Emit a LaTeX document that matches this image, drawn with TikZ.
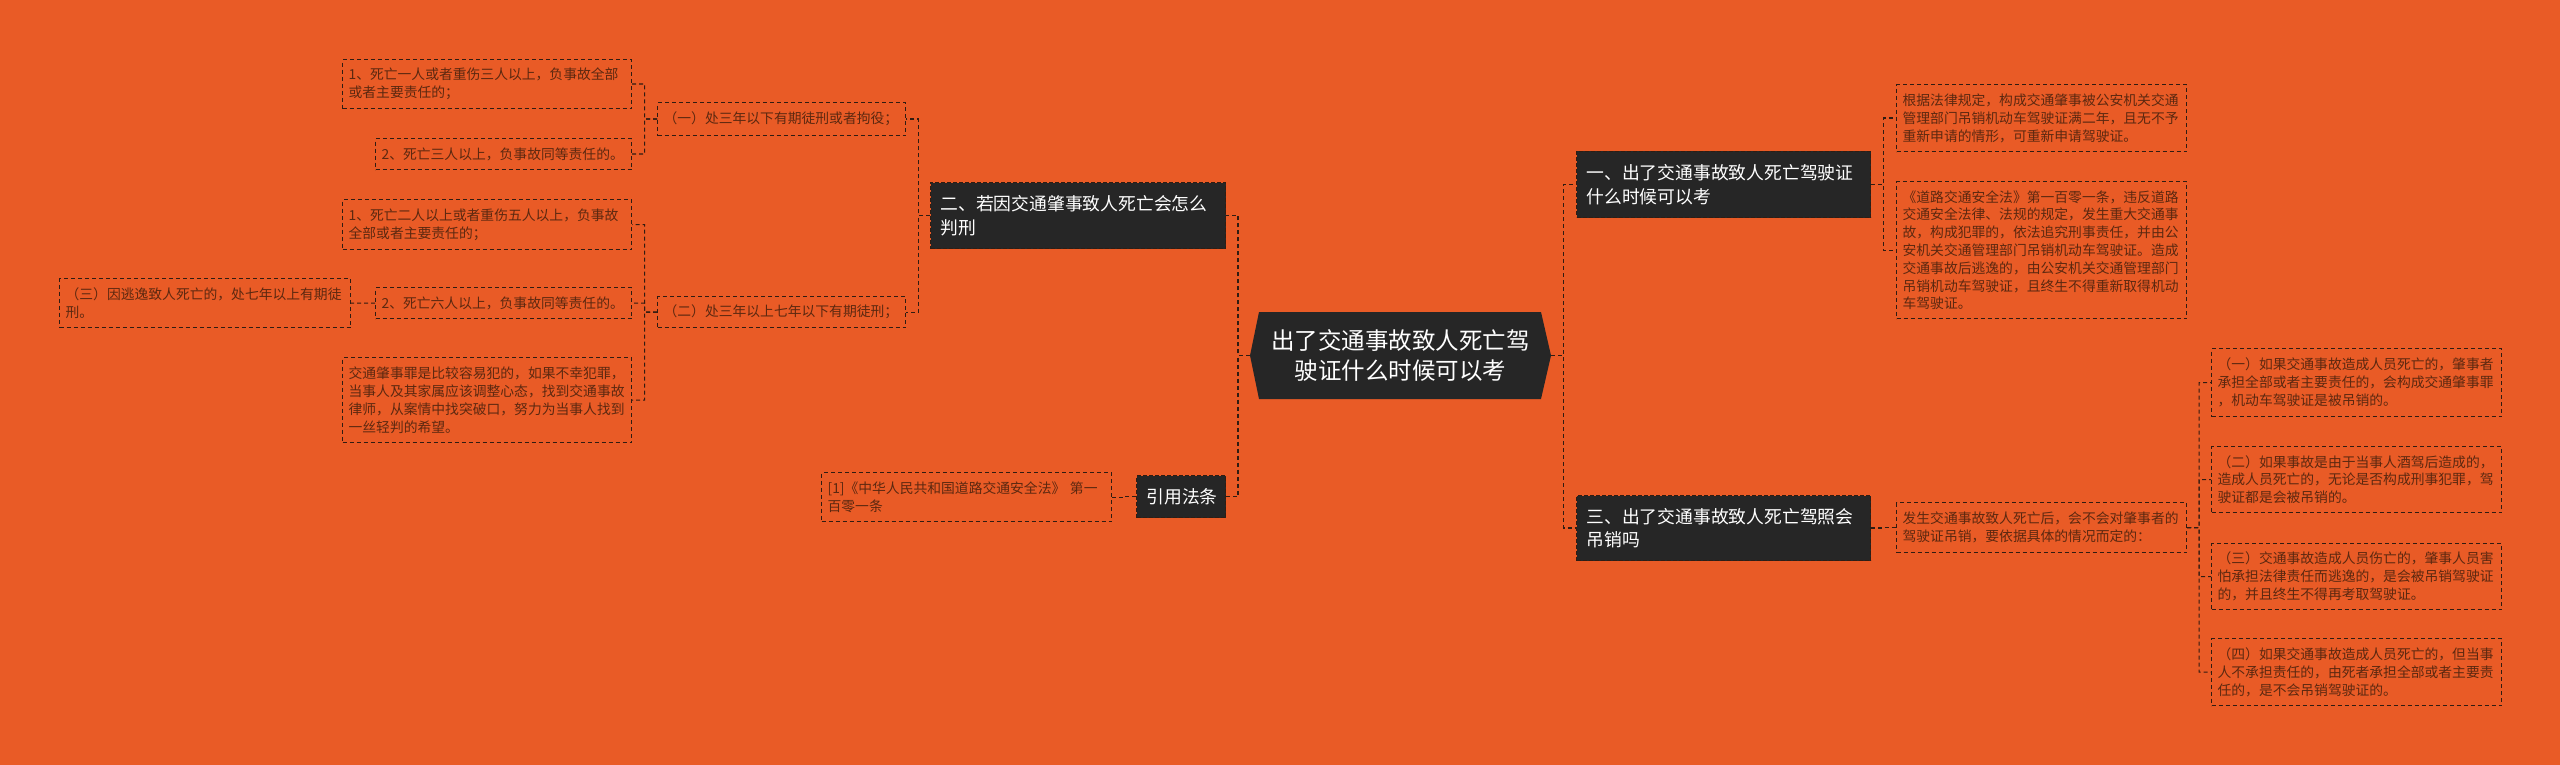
\documentclass[tikz,border=0pt]{standalone}
\usepackage{fontspec}
\newfontfamily\cjkf{Noto Sans CJK SC}
\usetikzlibrary{calc}
\definecolor{bgC}{RGB}{233,91,38}
\definecolor{darkC}{RGB}{38,38,38}
\definecolor{lineC}{RGB}{48,28,18}
\definecolor{txtC}{RGB}{92,40,16}
\newcommand{\connRight}[2]{\draw[conn] (#1.east) -- ($(#1.east)!.5!(#1.east -| #2.west)$) |- (#2.west);}
\newcommand{\connLeft}[2]{\draw[conn] (#1.west) -- ($(#1.west)!.5!(#1.west -| #2.east)$) |- (#2.east);}
\begin{document}
\begin{tikzpicture}[x=1pt,y=-1pt,
  conn/.style={draw=lineC, line width=1.2pt, dash pattern=on 4pt off 3pt},
  lbox/.style={draw=lineC, line width=1.2pt, dash pattern=on 4pt off 3pt, text=txtC,
    font=\cjkf\fontsize{13.8}{17.8}\selectfont, align=left, inner xsep=6pt, inner ysep=0pt, anchor=north west},
  dbox/.style={fill=darkC, draw=lineC, line width=1pt, dash pattern=on 4pt off 2pt, text=white,
    font=\cjkf\fontsize{17.8}{23.5}\selectfont, align=left, inner xsep=10pt, inner ysep=0pt, anchor=north west},
  cbox/.style={text=white, font=\cjkf\fontsize{23.5}{30}\selectfont, align=center, inner sep=0pt}
]
\fill[bgC] (0,0) rectangle (2560,765);
\useasboundingbox (0,0) rectangle (2560,765);

% central node
\fill[darkC] (1259,312) -- (1541,312) -- (1551,355.5) -- (1541,399) -- (1259,399) -- (1250,355.5) -- cycle;
\node[cbox, minimum width=301pt, minimum height=87pt] (c) at (1400.5,355.5) {出了交通事故致人死亡驾\\驶证什么时候可以考};

% level 1
\node[dbox, minimum width=295pt, minimum height=66pt, text width=275pt] (n2) at (930,182) {二、若因交通肇事致人死亡会怎么\\判刑};
\node[dbox, minimum width=89pt, minimum height=42pt, text width=69pt] (ncite) at (1136,475) {引用法条};
\node[dbox, minimum width=294pt, minimum height=66pt, text width=274pt] (n1) at (1576,151) {一、出了交通事故致人死亡驾驶证\\什么时候可以考};
\node[dbox, minimum width=294pt, minimum height=65pt, text width=274pt] (n3) at (1576,495) {三、出了交通事故致人死亡驾照会\\吊销吗};

% left side
\node[lbox, minimum width=248pt, minimum height=33pt, text width=236pt] (la) at (657,102) {（一）处三年以下有期徒刑或者拘役；};
\node[lbox, minimum width=248pt, minimum height=31pt, text width=236pt] (lb) at (657,296) {（二）处三年以上七年以下有期徒刑；};
\node[lbox, minimum width=289pt, minimum height=49pt, text width=277pt] (l11) at (342,59) {1、死亡一人或者重伤三人以上，负事故全部\\或者主要责任的；};
\node[lbox, minimum width=256pt, minimum height=31pt, text width=244pt] (l12) at (375,138) {2、死亡三人以上，负事故同等责任的。};
\node[lbox, minimum width=289pt, minimum height=50pt, text width=277pt] (l21) at (342,199) {1、死亡二人以上或者重伤五人以上，负事故\\全部或者主要责任的；};
\node[lbox, minimum width=256pt, minimum height=31pt, text width=244pt] (l22) at (375,287) {2、死亡六人以上，负事故同等责任的。};
\node[lbox, minimum width=289pt, minimum height=85pt, text width=277pt] (l23) at (342,357) {交通肇事罪是比较容易犯的，如果不幸犯罪，\\当事人及其家属应该调整心态，找到交通事故\\律师，从案情中找突破口，努力为当事人找到\\一丝轻判的希望。};
\node[lbox, minimum width=291pt, minimum height=49pt, text width=279pt] (l3) at (59,278) {（三）因逃逸致人死亡的，处七年以上有期徒\\刑。};
\node[lbox, minimum width=290pt, minimum height=49pt, text width=278pt] (lref) at (821,472) {[1]《中华人民共和国道路交通安全法》~第一\\百零一条};

% right side
\node[lbox, minimum width=290pt, minimum height=67pt, text width=278pt] (ra) at (1896,84) {根据法律规定，构成交通肇事被公安机关交通\\管理部门吊销机动车驾驶证满二年，且无不予\\重新申请的情形，可重新申请驾驶证。};
\node[lbox, minimum width=290pt, minimum height=137pt, text width=278pt] (rb) at (1896,181) {《道路交通安全法》第一百零一条，违反道路\\交通安全法律、法规的规定，发生重大交通事\\故，构成犯罪的，依法追究刑事责任，并由公\\安机关交通管理部门吊销机动车驾驶证。造成\\交通事故后逃逸的，由公安机关交通管理部门\\吊销机动车驾驶证，且终生不得重新取得机动\\车驾驶证。};
\node[lbox, minimum width=290pt, minimum height=50pt, text width=278pt] (rc) at (1896,502) {发生交通事故致人死亡后，会不会对肇事者的\\驾驶证吊销，要依据具体的情况而定的：};
\node[lbox, minimum width=290pt, minimum height=68pt, text width=278pt] (rd) at (2211,348) {（一）如果交通事故造成人员死亡的，肇事者\\承担全部或者主要责任的，会构成交通肇事罪\\，机动车驾驶证是被吊销的。};
\node[lbox, minimum width=290pt, minimum height=66pt, text width=278pt] (re) at (2211,446) {（二）如果事故是由于当事人酒驾后造成的，\\造成人员死亡的，无论是否构成刑事犯罪，驾\\驶证都是会被吊销的。};
\node[lbox, minimum width=290pt, minimum height=66pt, text width=278pt] (rf) at (2211,543) {（三）交通事故造成人员伤亡的，肇事人员害\\怕承担法律责任而逃逸的，是会被吊销驾驶证\\的，并且终生不得再考取驾驶证。};
\node[lbox, minimum width=290pt, minimum height=67pt, text width=278pt] (rg) at (2211,638) {（四）如果交通事故造成人员死亡的，但当事\\人不承担责任的，由死者承担全部或者主要责\\任的，是不会吊销驾驶证的。};

% connectors
\connLeft{c}{n2}
\connLeft{c}{ncite}
\connLeft{n2}{la}
\connLeft{n2}{lb}
\connLeft{la}{l11}
\connLeft{la}{l12}
\connLeft{lb}{l21}
\connLeft{lb}{l22}
\connLeft{lb}{l23}
\connLeft{l22}{l3}
\connLeft{ncite}{lref}
\connRight{c}{n1}
\connRight{c}{n3}
\connRight{n1}{ra}
\connRight{n1}{rb}
\connRight{n3}{rc}
\connRight{rc}{rd}
\connRight{rc}{re}
\connRight{rc}{rf}
\connRight{rc}{rg}
\end{tikzpicture}
\end{document}
